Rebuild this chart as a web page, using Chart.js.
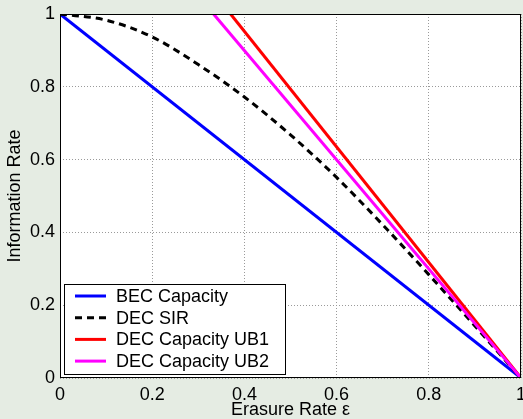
<!DOCTYPE html>
<html>
<head>
<meta charset="utf-8">
<script src="https://cdn.jsdelivr.net/npm/chart.js@4.4.1/dist/chart.umd.min.js"></script>
<style>
  html, body { margin: 0; padding: 0; background: #e5ece3; }
  #wrap { width: 523px; height: 419px; }
</style>
</head>
<body>
<div id="wrap"><canvas id="rateChart" width="523" height="419"></canvas></div>
<script>
// values
const becEps = [0, 1];
const becRate = [1, 0];

const sirEps = [0, 0.1, 0.2, 0.3, 0.4, 0.5, 0.6, 0.7, 0.8, 0.9, 1];
const sirRate = [1, 0.983, 0.937, 0.861, 0.772, 0.668, 0.551, 0.421, 0.284, 0.143, 0];

const ub1Eps = [0.37, 1];
const ub1Rate = [1, 0];

const ub2Eps = [0.333, 1];
const ub2Rate = [1, 0];

const seriesNames = ["BEC Capacity", "DEC SIR", "DEC Capacity UB1", "DEC Capacity UB2"];

const xTicks = [0, 0.2, 0.4, 0.6, 0.8, 1];
const xTickLabels = ["0", "0.2", "0.4", "0.6", "0.8", "1"];
const yTicks = [0, 0.2, 0.4, 0.6, 0.8, 1];
const yTickLabels = ["0", "0.2", "0.4", "0.6", "0.8", "1"];

const fontFamily = "'Liberation Sans', Arial, Helvetica, sans-serif";

function toPoints(xs, ys) {
  return xs.map((x, i) => ({ x: x, y: ys[i] }));
}

// background, white axes box, frame and legend drawn inside the plot
const frameAndLegend = {
  id: "frameAndLegend",
  beforeDraw(chart) {
    const { ctx, chartArea: a } = chart;
    ctx.save();
    ctx.fillStyle = "#e5ece3";
    ctx.fillRect(0, 0, chart.width, chart.height);
    ctx.fillStyle = "#ffffff";
    ctx.fillRect(a.left, a.top, a.right - a.left, a.bottom - a.top);
    ctx.restore();
  },
  afterDraw(chart) {
    const { ctx, chartArea: a } = chart;
    ctx.save();
    ctx.strokeStyle = "#000000";
    ctx.lineWidth = 1;
    ctx.strokeRect(a.left + 0.5, a.top + 0.5, a.right - a.left - 1, a.bottom - a.top - 1);

    // legend
    const boxX = a.left + 4, boxY = a.bottom - 94, boxW = 221, boxH = 90;
    ctx.fillStyle = "#ffffff";
    ctx.fillRect(boxX, boxY, boxW, boxH);
    ctx.strokeRect(boxX + 0.5, boxY + 0.5, boxW, boxH);

    ctx.font = "18px " + fontFamily;
    ctx.textBaseline = "middle";
    chart.data.datasets.forEach((ds, i) => {
      const rowY = boxY + 12 + i * 21.7;
      ctx.beginPath();
      ctx.strokeStyle = ds.borderColor;
      ctx.lineWidth = ds.borderWidth;
      ctx.setLineDash(ds.borderDash || []);
      ctx.moveTo(boxX + 11, rowY);
      ctx.lineTo(boxX + 42, rowY);
      ctx.stroke();
      ctx.setLineDash([]);
      ctx.fillStyle = "#000000";
      ctx.fillText(ds.label, boxX + 52, rowY + 1);
    });
    ctx.restore();
  }
};

const ctx = document.getElementById("rateChart").getContext("2d");
new Chart(ctx, {
  type: "line",
  data: {
    datasets: [
      {
        label: seriesNames[0],
        data: toPoints(becEps, becRate),
        borderColor: "#0000ff",
        borderWidth: 3,
        pointRadius: 0,
        order: 4,
      },
      {
        label: seriesNames[1],
        data: toPoints(sirEps, sirRate),
        borderColor: "#000000",
        borderWidth: 3,
        borderDash: [7, 5],
        pointRadius: 0,
        cubicInterpolationMode: "monotone",
        order: 3,
      },
      {
        label: seriesNames[2],
        data: toPoints(ub1Eps, ub1Rate),
        borderColor: "#ff0000",
        borderWidth: 3,
        pointRadius: 0,
        order: 2,
      },
      {
        label: seriesNames[3],
        data: toPoints(ub2Eps, ub2Rate),
        borderColor: "#ff00ff",
        borderWidth: 3,
        pointRadius: 0,
        order: 1,
      },
    ],
  },
  options: {
    responsive: false,
    animation: false,
    layout: { padding: { top: 14, right: 2, bottom: 0, left: 0 } },
    plugins: {
      legend: { display: false },
      tooltip: { enabled: false },
    },
    scales: {
      x: {
        type: "linear",
        min: 0,
        max: 1,
        afterBuildTicks: (s) => { s.ticks = xTicks.map((v) => ({ value: v })); },
        afterFit: (s) => { s.height = 41; s.paddingLeft = 0; s.paddingRight = 0; },
        grid: { color: "#9a9a9a", lineWidth: 1, drawTicks: false },
        border: { display: false, dash: [1, 2] },
        ticks: {
          padding: 6,
          color: "#000000",
          autoSkip: false,
          maxRotation: 0,
          font: { size: 18, family: fontFamily },
          callback: (v, i) => xTickLabels[i],
        },
        title: {
          display: true,
          text: "Erasure Rate ε",
          color: "#000000",
          font: { size: 18, family: fontFamily, lineHeight: 1 },
          padding: { top: 0, bottom: 0 },
        },
      },
      y: {
        type: "linear",
        min: 0,
        max: 1,
        afterBuildTicks: (s) => { s.ticks = yTicks.map((v) => ({ value: v })); },
        afterFit: (s) => { s.width = 60; s.paddingTop = 0; s.paddingBottom = 0; },
        grid: { color: "#9a9a9a", lineWidth: 1, drawTicks: false },
        border: { display: false, dash: [1, 2] },
        ticks: {
          padding: 5,
          color: "#000000",
          autoSkip: false,
          font: { size: 18, family: fontFamily },
          callback: (v, i) => yTickLabels[i],
        },
        title: {
          display: true,
          text: "Information Rate",
          color: "#000000",
          font: { size: 18, family: fontFamily, lineHeight: 1 },
          padding: { top: 6, bottom: 0 },
        },
      },
    },
  },
  plugins: [frameAndLegend],
});
</script>
</body>
</html>
